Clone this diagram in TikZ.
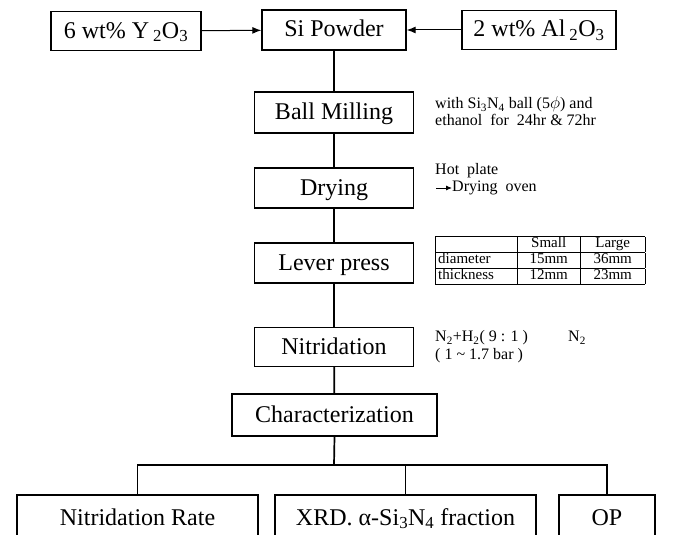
\documentclass[tikz,border=0pt]{standalone}
\usepackage{fontspec}
\setmainfont{Liberation Serif}
\usetikzlibrary{arrows.meta}
\begin{document}
\begin{tikzpicture}[x=1pt,y=-1pt,
  box/.style={draw,line width=1.4pt,rectangle,inner sep=0pt,text height=17pt,text depth=3pt,font=\fontsize{24}{28}\selectfont},
  note/.style={anchor=west,inner sep=0pt,font=\fontsize{16}{17}\selectfont,align=left},
  link/.style={line width=1.7pt},
  arr/.style={line width=1pt,-{Latex[length=9pt,width=7pt]}}]
\useasboundingbox (0,0) rectangle (677,535);
\clip (0,0) rectangle (677,535);
% top row
\node[box,minimum width=150pt,minimum height=39pt] (y2o3) at (126,31) {6 wt\% Y\,\textsubscript{2}O\textsubscript{3}};
\node[box,minimum width=144pt,minimum height=40pt] (si) at (334,30) {Si Powder};
\node[box,minimum width=154pt,minimum height=39pt] (al) at (539,30) {2 wt\% Al\,\textsubscript{2}O\textsubscript{3}};
\draw[arr] (y2o3) -- (si);
\draw[arr] (al) -- (si);
% main column
\node[box,minimum width=159pt,minimum height=41pt] (ball) at (334,112.5) {Ball Milling};
\node[box,minimum width=159pt,minimum height=40pt] (dry) at (334,188) {Drying};
\node[box,minimum width=159pt,minimum height=40pt] (lever) at (334,263) {Lever press};
\node[box,minimum width=159pt,minimum height=39pt] (nitr) at (334,347) {Nitridation};
\node[box,minimum width=205pt,minimum height=42pt] (char) at (334.5,415) {Characterization};
\draw[link] (si) -- (ball);
\draw[link] (ball) -- (dry);
\draw[link] (dry) -- (lever);
\draw[link] (lever) -- (nitr);
\draw[link] (nitr) -- (char);
% bottom row
\node[box,minimum width=241pt,minimum height=46pt] (nrate) at (137.5,518) {Nitridation Rate};
\node[box,minimum width=261pt,minimum height=46pt] (xrd) at (405.5,518) {XRD. α-Si\textsubscript{3}N\textsubscript{4} fraction};
\node[box,minimum width=96pt,minimum height=46pt] (op) at (607,518) {OP};
\coordinate (bus) at (334,465);
\draw[link] (char.south) -- (bus);
\draw[link] (nrate.north) |- (bus) -| (op.north);
\draw[link] (xrd.north) -- (xrd.north |- bus);
% annotations
\node[note] (ballnote) at (435,111) {with Si\textsubscript{3}N\textsubscript{4} ball (5$\phi$) and\\ethanol\ \ for\ \ 24hr \& 72hr};
\node[note] (hot) at (435,171) {Hot\ \ plate};
\node[note] (oven) at (452,188) {Drying\ \ oven};
\coordinate (ovenarrow) at (436,188);
\draw[line width=0.9pt,-{Latex[length=6pt,width=5pt]}] (ovenarrow) -- (oven.west);
\node[note,anchor=north west,font=\fontsize{15}{15}\selectfont] (tbl) at (435,236) {\setlength\tabcolsep{3pt}\setlength\arrayrulewidth{0.8pt}%
\begin{tabular}{|l|c|c|}\hline
\makebox[76pt][l]{} & \makebox[57pt]{Small} & \makebox[59pt]{Large}\\\hline
diameter & 15mm & 36mm\\\hline
thickness & 12mm & 23mm\\\hline
\end{tabular}};
\node[note] (gas1) at (435,338) {N\textsubscript{2}+H\textsubscript{2}( 9 : 1 )};
\node[note] (gas2) at (568,338) {N\textsubscript{2}};
\node[note] (press) at (435,356) {( 1 \textasciitilde\ 1.7 bar )};
\end{tikzpicture}
\end{document}
